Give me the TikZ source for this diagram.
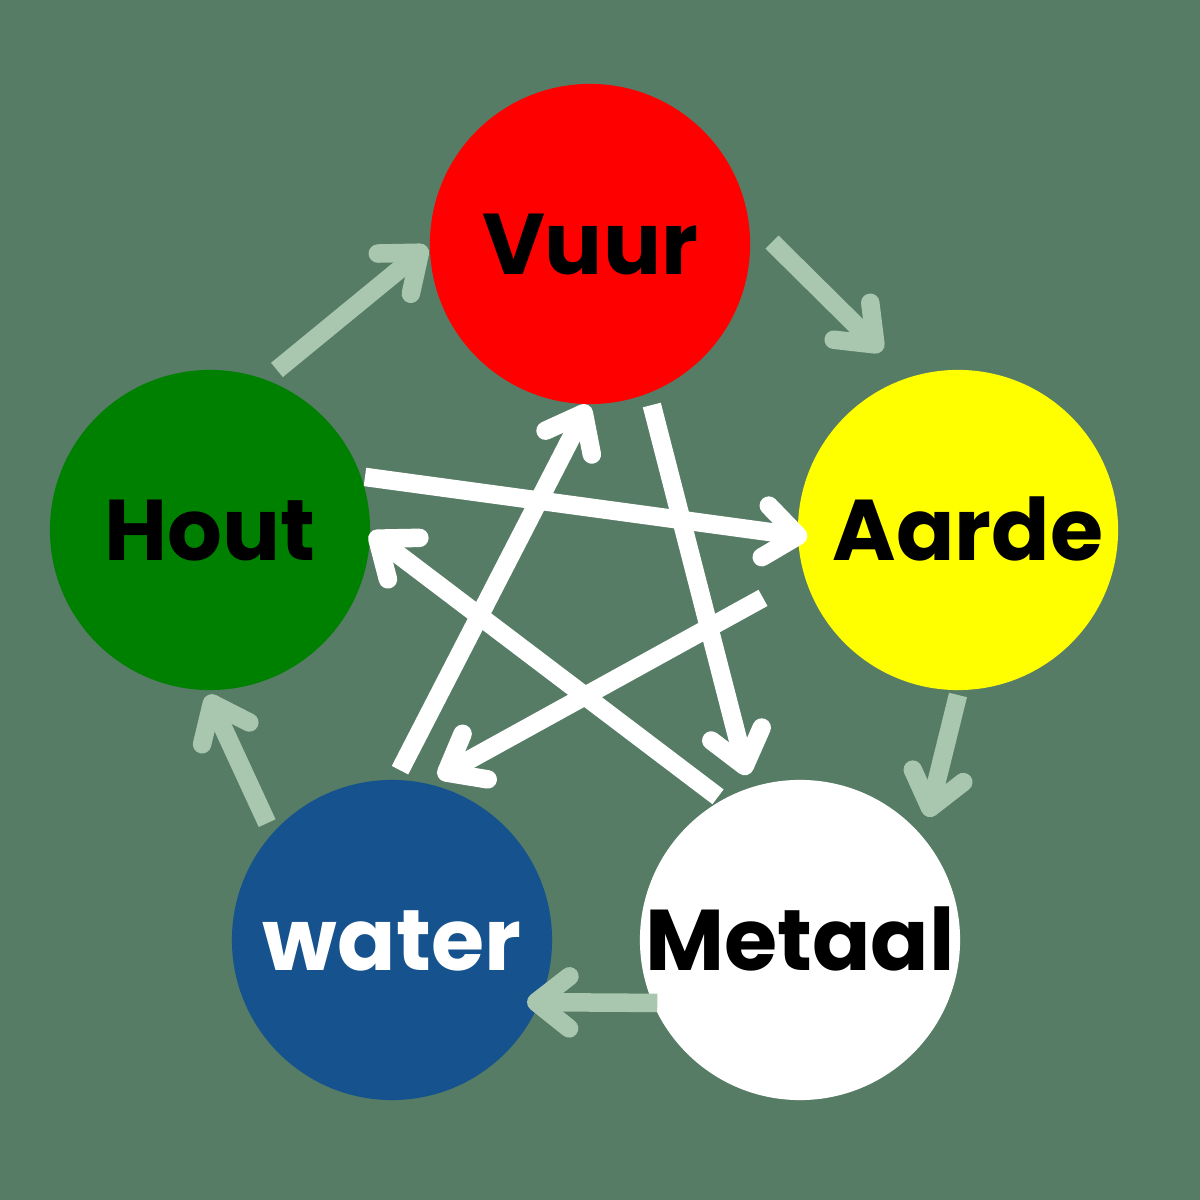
\documentclass[tikz,border=0pt]{standalone}
\usepackage{fontspec}
\setmainfont{Poppins}
\usetikzlibrary{calc}
\definecolor{board}{HTML}{567C66}
\definecolor{pale}{HTML}{A9C7AE}
\definecolor{vuurred}{HTML}{FF0000}
\definecolor{aardeyellow}{HTML}{FFFF00}
\definecolor{houtgreen}{HTML}{008000}
\definecolor{waterblue}{HTML}{15528E}

% open chevron tip with round ends
\pgfarrowsdeclare{chevron}{chevron}
{
	\pgfarrowsleftextend{-3.6mm}
	\pgfarrowsrightextend{.5\pgflinewidth}
}
{
	\pgfsetdash{}{0pt}
	\pgfsetroundcap
	\pgfsetroundjoin
	\pgfpathmoveto{\pgfpoint{-3.3mm}{2.6mm}}
	\pgfpathlineto{\pgfpointorigin}
	\pgfpathlineto{\pgfpoint{-3.3mm}{-2.6mm}}
	\pgfusepathqstroke
}

\begin{document}
\begin{tikzpicture}[
	every element/.style={circle, minimum size=3.2cm, inner sep=0pt, outer sep=0pt, text height=17.1pt, text depth=0pt, font=\bfseries\fontsize{24.5}{30}\selectfont},
	cycle arrow/.style={->, draw=pale, line width=1.85mm},
	star arrow/.style={->, draw=white, line width=1.85mm},
	x=0.01cm,
	y=0.01cm,
	>=chevron
]

\fill[board] (0,0) rectangle (1200,1200);

\node[every element/.try, fill=vuurred] (vuur) at (590,956) {Vuur};
\node[every element/.try, fill=aardeyellow] (aarde) at (958,670) {\kern2mm Aarde};
\node[every element/.try, fill=white] (metaal) at (800,260) {Metaal};
\node[every element/.try, fill=waterblue, text=white] (water) at (392,260) {water};
\node[every element/.try, fill=houtgreen] (hout) at (210,670) {Hout};

% outer cycle
\draw[cycle arrow] ($(hout)+(67.3:173.5)$) -- ($(vuur)+(181:163)$);
\draw[cycle arrow] ($(vuur)+(0.6:182)$) -- ($(aarde)+(113:194.5)$);
\draw[cycle arrow] ($(aarde)+(270:165)$) -- ($(metaal)+(43.9:177.5)$);
\draw[cycle arrow] ($(metaal)+(203.8:156)$) -- ($(water)+(335.3:148.6)$);
\draw[cycle arrow] ($(water)+(136.9:171)$) -- ($(hout)+(269.3:165)$);

% inner star
\draw[star arrow] ($(hout)+(18.9:163.8)$) -- ($(aarde)+(182.7:151)$);
\draw[star arrow] ($(aarde)+(199.2:206.5)$) -- ($(water)+(74.2:169.4)$);
\draw[star arrow] ($(water)+(87.3:170)$) -- ($(vuur)+(269.3:161)$);
\draw[star arrow] ($(vuur)+(291:172.5)$) -- ($(metaal)+(107.8:173.3)$);
\draw[star arrow] ($(metaal)+(119.8:165)$) -- ($(hout)+(358.9:160)$);

\end{tikzpicture}
\end{document}
